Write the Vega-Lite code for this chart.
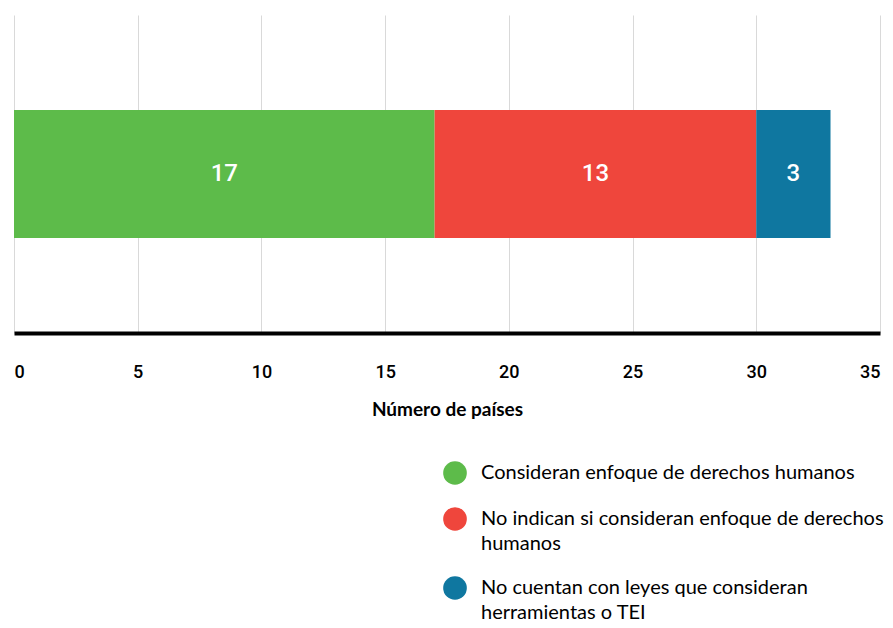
{
  "$schema": "https://vega.github.io/schema/vega-lite/v6.json",
  "width": 866,
  "height": 318,
  "autosize": "none",
  "padding": {"left": 14, "top": 15, "right": 13, "bottom": 295},
  "background": "white",
  "config": {"view": {"stroke": null}},
  "data": {"values": [
    {"fila": "Países", "categoria": "Consideran enfoque de derechos humanos", "paises": 17},
    {"fila": "Países", "categoria": "No indican si consideran enfoque de derechos humanos", "paises": 13},
    {"fila": "Países", "categoria": "No cuentan con leyes que consideran herramientas o TEI", "paises": 3}
  ]},
  "encoding": {
    "y": {"field": "fila", "type": "nominal", "axis": null, "scale": {"paddingInner": 0, "paddingOuter": 0}}
  },
  "layer": [
    {
      "mark": {"type": "bar", "size": 128},
      "encoding": {
        "x": {"field": "paises", "type": "quantitative", "stack": "zero",
          "scale": {"domain": [0, 35], "nice": false},
          "axis": {
            "values": [0, 5, 10, 15, 20, 25, 30, 35],
            "title": "Número de países",
            "titleFont": "Lato", "titleFontSize": 19, "titleFontWeight": "bold", "titleColor": "#000000", "titlePadding": 19,
            "labelFont": "Roboto", "labelFontSize": 18, "labelFontWeight": 500, "labelColor": "#000000", "labelPadding": 30,
            "domainColor": "#000000", "domainWidth": 4,
            "ticks": false,
            "grid": true, "gridColor": "#d9d9d9", "gridWidth": 1
          }
        },
        "color": {"field": "categoria", "type": "nominal",
          "sort": ["Consideran enfoque de derechos humanos", "No indican si consideran enfoque de derechos humanos", "No cuentan con leyes que consideran herramientas o TEI"],
          "scale": {
            "domain": ["Consideran enfoque de derechos humanos", "No indican si consideran enfoque de derechos humanos", "No cuentan con leyes que consideran herramientas o TEI"],
            "range": ["#5dbb4a", "#ef463c", "#0f77a0"]
          },
          "legend": {
            "title": null, "orient": "none", "legendX": 429, "legendY": 446,
            "symbolType": "circle", "symbolSize": 560, "symbolStrokeWidth": 0, "symbolOpacity": 1,
            "labelFont": "Lato", "labelFontSize": 20, "labelColor": "#000000", "labelOffset": 14, "labelLimit": 500,
            "rowPadding": 22,
            "labelExpr": "datum.label == 'No indican si consideran enfoque de derechos humanos' ? ['No indican si consideran enfoque de derechos', 'humanos'] : datum.label == 'No cuentan con leyes que consideran herramientas o TEI' ? ['No cuentan con leyes que consideran', 'herramientas o TEI'] : datum.label",
            "encode": {"labels": {"update": {"lineHeight": {"value": 25}}}}
          }
        },
        "order": {"field": "paises", "sort": "descending"}
      }
    },
    {
      "mark": {"type": "text", "color": "white", "font": "Roboto", "fontSize": 24, "fontWeight": 500},
      "encoding": {
        "x": {"field": "paises", "type": "quantitative", "stack": "zero", "bandPosition": 0.5},
        "detail": {"field": "categoria"},
        "order": {"field": "paises", "sort": "descending"},
        "text": {"field": "paises", "type": "quantitative"}
      }
    }
  ]
}
